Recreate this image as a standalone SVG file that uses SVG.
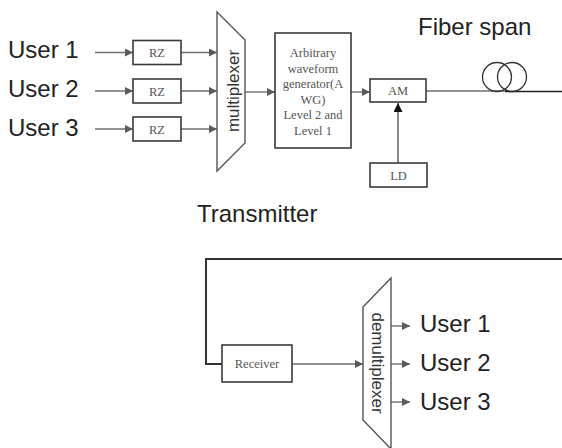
<svg xmlns="http://www.w3.org/2000/svg" width="562" height="448" viewBox="0 0 562 448">
  <style>
    .box { fill: #ffffff; stroke: #3a3a3a; stroke-width: 1.6; }
    .lbl { font-family: "Liberation Serif", "Times New Roman", serif; font-size: 12.5px; fill: #555555; text-anchor: middle; }
    .big { font-family: "Liberation Sans", Arial, sans-serif; font-size: 24px; fill: #222222; }
    .rot { font-family: "Liberation Sans", Arial, sans-serif; font-size: 17px; fill: #333333; text-anchor: middle; dominant-baseline: central; }
    .wire { fill: none; stroke: #6e6e6e; stroke-width: 1.4; }
    .arrow { fill: none; stroke: #6e6e6e; stroke-width: 1.4; marker-end: url(#head); }
    .dark { fill: none; stroke: #333333; stroke-width: 2; }
  </style>
  <defs>
    <marker id="head" viewBox="0 0 10 10" refX="10" refY="5" markerWidth="9" markerHeight="8" markerUnits="userSpaceOnUse" orient="auto">
      <path d="M0,0 L10,5 L0,10 z" fill="#5a5a5a"/>
    </marker>
    <marker id="headBlack" viewBox="0 0 10 10" refX="10" refY="5" markerWidth="10" markerHeight="9" markerUnits="userSpaceOnUse" orient="auto">
      <path d="M0,0 L10,5 L0,10 z" fill="#111111"/>
    </marker>
  </defs>

  <rect width="562" height="448" fill="#ffffff"/>

  <!-- free-standing labels -->
  <text class="big" x="8" y="58">User 1</text>
  <text class="big" x="8" y="97">User 2</text>
  <text class="big" x="8" y="136">User 3</text>
  <text class="big" x="418" y="35">Fiber span</text>
  <text class="big" x="197" y="222">Transmitter</text>
  <text class="big" x="420" y="332">User 1</text>
  <text class="big" x="420" y="371">User 2</text>
  <text class="big" x="420" y="410">User 3</text>

  <!-- connectors -->
  <g id="connectors">
    <line class="arrow" x1="95" y1="52.5" x2="133" y2="52.5"/>
    <line class="arrow" x1="95" y1="91" x2="133" y2="91"/>
    <line class="arrow" x1="95" y1="129" x2="133" y2="129"/>
    <line class="arrow" x1="181" y1="52.5" x2="217" y2="52.5"/>
    <line class="arrow" x1="181" y1="91" x2="217" y2="91"/>
    <line class="arrow" x1="181" y1="129" x2="217" y2="129"/>
    <line class="arrow" x1="245" y1="92" x2="275" y2="92"/>
    <line class="arrow" x1="351" y1="92" x2="370" y2="92"/>
    <line x1="398" y1="163" x2="398" y2="103" stroke="#6e6e6e" stroke-width="1.6" marker-end="url(#headBlack)"/>
    <!-- fiber span coil -->
    <line class="wire" x1="426" y1="91" x2="505" y2="91"/>
    <circle cx="497" cy="77" r="14.5" fill="none" stroke="#333333" stroke-width="1.3"/>
    <circle cx="512" cy="77" r="14.5" fill="none" stroke="#333333" stroke-width="1.3"/>
    <line x1="505" y1="91.5" x2="562" y2="91.5" stroke="#222222" stroke-width="1.6"/>
    <!-- return path to receiver -->
    <polyline class="dark" points="562,259 206,259 206,364 222,364"/>
    <line class="arrow" x1="292" y1="364" x2="363" y2="364"/>
    <line class="arrow" x1="391" y1="326" x2="410" y2="326"/>
    <line class="arrow" x1="391" y1="364" x2="410" y2="364"/>
    <line class="arrow" x1="391" y1="402" x2="410" y2="402"/>
  </g>

  <g id="rz1">
    <rect class="box" x="133" y="40.5" width="48" height="24"/>
    <text class="lbl" x="157" y="57">RZ</text>
  </g>
  <g id="rz2">
    <rect class="box" x="133" y="79" width="48" height="24"/>
    <text class="lbl" x="157" y="95.5">RZ</text>
  </g>
  <g id="rz3">
    <rect class="box" x="133" y="117" width="48" height="24"/>
    <text class="lbl" x="157" y="133.5">RZ</text>
  </g>

  <g id="multiplexer">
    <polygon points="217,12 245,40 245,143 217,171" fill="#ffffff" stroke="#555555" stroke-width="1.4"/>
    <text class="rot" transform="translate(233,91) rotate(-90)">multiplexer</text>
  </g>

  <g id="awg">
    <rect class="box" x="275" y="33" width="76" height="115"/>
    <text class="lbl" x="313" y="57">Arbitrary</text>
    <text class="lbl" x="313" y="72.5">waveform</text>
    <text class="lbl" x="313" y="88">generator(A</text>
    <text class="lbl" x="313" y="103.5">WG)</text>
    <text class="lbl" x="313" y="119">Level 2 and</text>
    <text class="lbl" x="313" y="134.5">Level 1</text>
  </g>

  <g id="am">
    <rect class="box" x="370" y="79" width="56" height="23"/>
    <text class="lbl" x="398" y="95">AM</text>
  </g>

  <g id="ld">
    <rect class="box" x="370" y="163" width="57" height="24"/>
    <text class="lbl" x="398.5" y="180">LD</text>
  </g>

  <g id="receiver">
    <rect class="box" x="222" y="345" width="70" height="37"/>
    <text class="lbl" x="257" y="368">Receiver</text>
  </g>

  <g id="demultiplexer">
    <polygon points="363,307 391,278 391,449 363,420" fill="#ffffff" stroke="#555555" stroke-width="1.4"/>
    <text class="rot" transform="translate(377,363) rotate(90)">demultiplexer</text>
  </g>
</svg>
